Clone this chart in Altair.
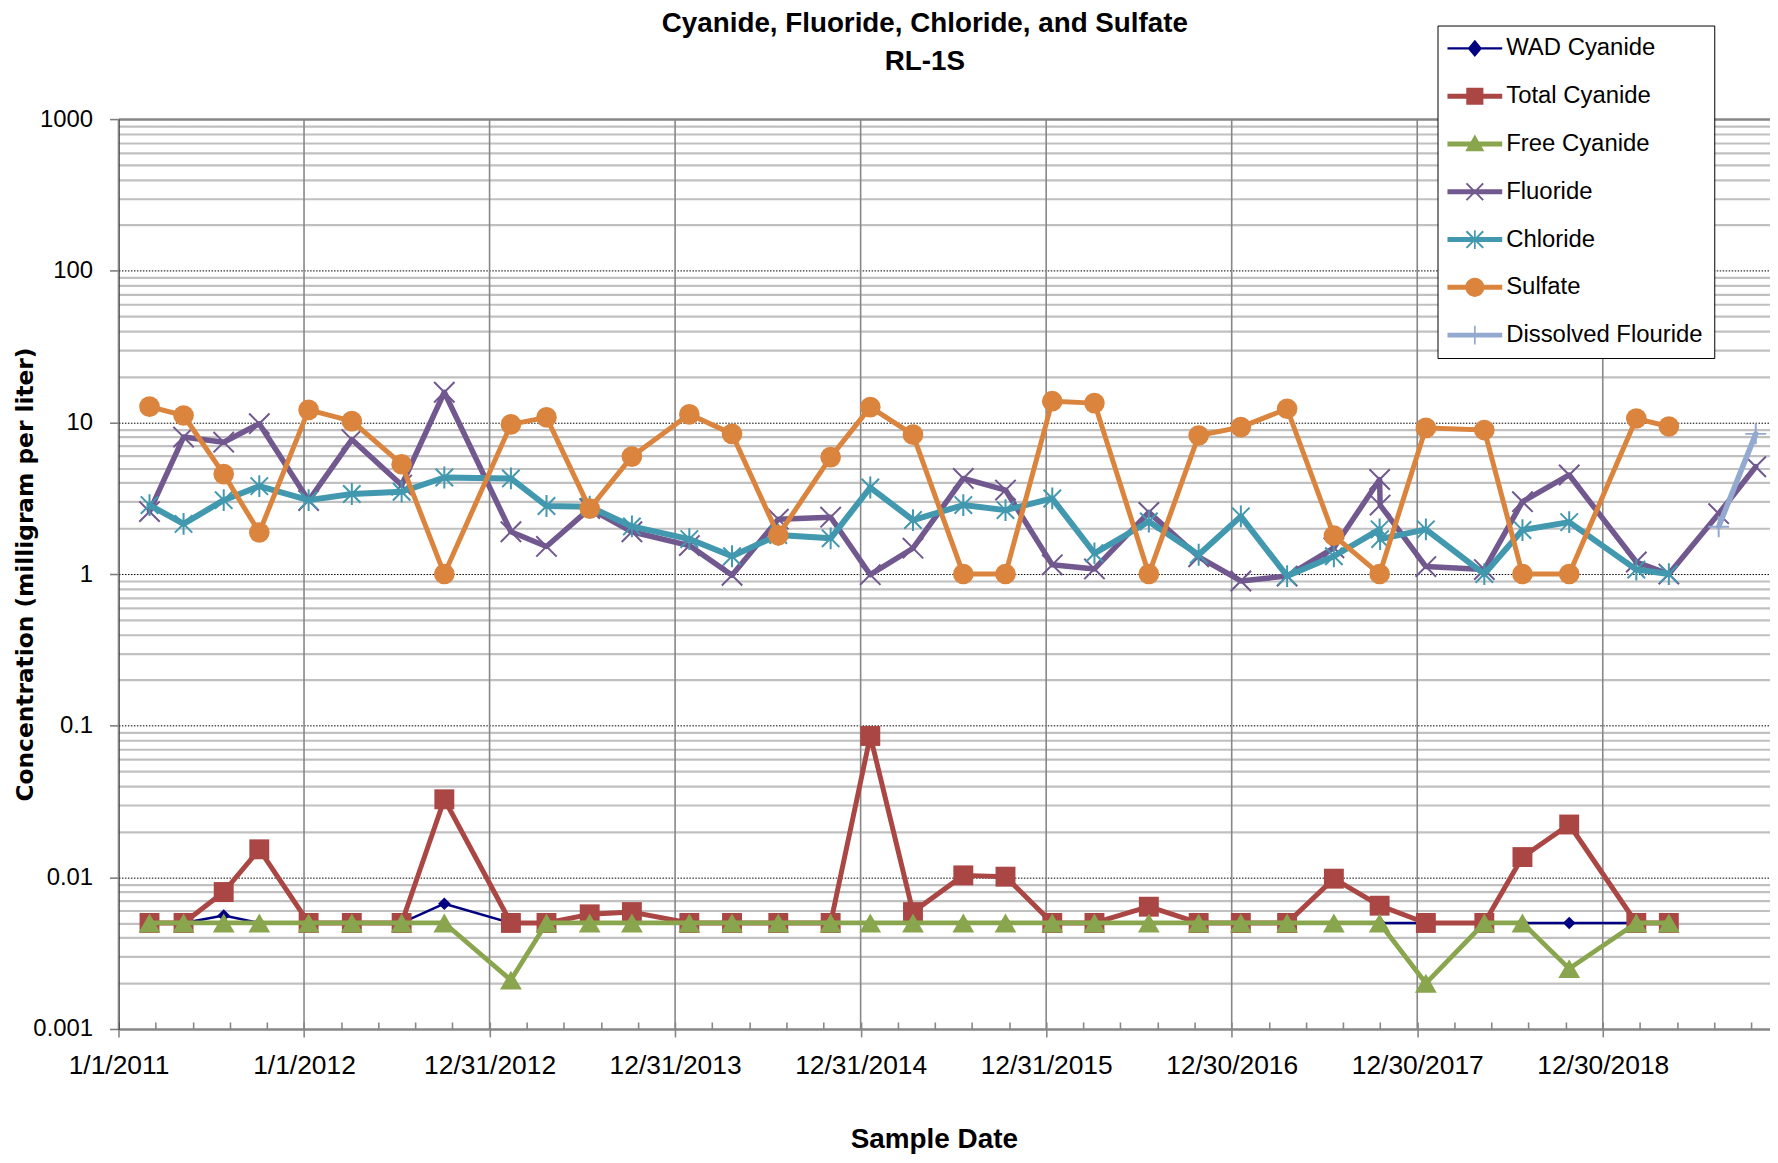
import altair as alt
import pandas as pd

# ---------------- data ----------------
sample_dates = [
    "2011-03-03", "2011-05-09", "2011-07-27", "2011-10-05", "2012-01-10", "2012-04-04",
    "2012-07-11", "2012-10-03", "2013-02-11", "2013-04-22", "2013-07-16", "2013-10-07",
    "2014-01-28", "2014-04-22", "2014-07-22", "2014-11-02", "2015-01-19", "2015-04-13",
    "2015-07-21", "2015-10-12", "2016-01-12", "2016-04-04", "2016-07-20", "2016-10-26",
    "2017-01-17", "2017-04-18", "2017-07-19", "2017-10-17", "2018-01-16", "2018-05-11",
    "2018-07-25", "2018-10-25", "2019-03-06", "2019-05-09",
]

wad_cyanide = [
    0.005, 0.005, 0.0056, 0.005, 0.005, 0.005, 0.005, 0.0067, 0.005, 0.005,
    0.005, 0.005, 0.005, 0.005, 0.005, 0.005, 0.005, 0.005, 0.005, 0.005,
    0.005, 0.005, 0.005, 0.005, 0.005, 0.005, 0.005, 0.005, 0.005, 0.005,
    0.005, 0.005, 0.005, 0.005,
]
total_cyanide = [
    0.005, 0.005, 0.008, 0.0153, 0.005, 0.005, 0.005, 0.0327, 0.005, 0.005,
    0.0057, 0.0059, 0.005, 0.005, 0.005, 0.005, 0.0855, 0.0059, 0.0103, 0.0101,
    0.005, 0.005, 0.0064, 0.005, 0.005, 0.005, 0.0098, 0.0065, 0.005, 0.005,
    0.0136, 0.0223, 0.005, 0.005,
]
free_cyanide = [
    0.005, 0.005, 0.005, 0.005, 0.005, 0.005, 0.005, 0.005, 0.0021, 0.005,
    0.005, 0.005, 0.005, 0.005, 0.005, 0.005, 0.005, 0.005, 0.005, 0.005,
    0.005, 0.005, 0.005, 0.005, 0.005, 0.005, 0.005, 0.005, 0.002, 0.005,
    0.005, 0.0025, 0.005, 0.005,
]
sulfate = [
    12.7, 11.1, 4.56, 1.88, 12.1, 10.2, 5.3, 1.0, 9.7, 10.8,
    2.7, 5.95, 11.3, 8.4, 1.8, 5.9, 12.6, 8.3, 1.0, 1.0,
    13.8, 13.4, 1.0, 8.2, 9.3, 12.3, 1.79, 1.0, 9.2, 8.9,
    1.0, 1.0, 10.6, 9.4,
]

fluoride_dates = sample_dates[:28] + ["2017-10-18"] + sample_dates[28:] + ["2019-08-15", "2019-10-27"]
fluoride = [
    2.58, 8.0, 7.4, 9.8, 3.05, 7.7, 3.86, 15.8, 1.9, 1.52,
    2.7, 1.9, 1.54, 0.98, 2.3, 2.37, 0.99, 1.48, 4.27, 3.58,
    1.15, 1.08, 2.55, 1.3, 0.90, 0.97, 1.49, 4.2,
    2.85,
    1.12, 1.07, 3.0, 4.5, 1.2, 1.0,
    2.5, 5.1,
]

chloride_dates = sample_dates[:28] + ["2017-10-18"] + sample_dates[28:]
chloride = [
    2.85, 2.14, 3.07, 3.8, 3.07, 3.37, 3.49, 4.33, 4.27, 2.81,
    2.78, 2.06, 1.7, 1.31, 1.81, 1.72, 3.72, 2.27, 2.85, 2.64,
    3.15, 1.37, 2.22, 1.34, 2.4, 0.97, 1.31, 1.97,
    1.70,
    1.97, 1.0, 1.95, 2.2, 1.07, 1.0,
]

dissolved_fluoride_dates = ["2019-08-15", "2019-10-27"]
dissolved_fluoride = [2.05, 8.4]

series_names = ["WAD Cyanide", "Total Cyanide", "Free Cyanide", "Fluoride",
                "Chloride", "Sulfate", "Dissolved Flouride"]

x_tick_dates = ["2011-01-01", "2012-01-01", "2012-12-31", "2013-12-31", "2014-12-31",
                "2015-12-31", "2016-12-30", "2017-12-30", "2018-12-30"]
x_domain = ["2011-01-01", "2019-11-24"]
y_tick_values = [0.001, 0.01, 0.1, 1, 10, 100, 1000]

# ---------------- styles ----------------
FONT = "Liberation Sans"
series_colors = ["#000080", "#AA4643", "#89A54E", "#71588F", "#4198AF", "#DB843D", "#93A9CF"]
line_widths = [2.5, 5.0, 4.8, 5.5, 6.0, 5.0, 5.5]
X_PATH = "M-1,-1L1,1M-1,1L1,-1"
STAR_PATH = "M-0.8,-0.8L0.8,0.8M-0.8,0.8L0.8,-0.8M0,-1L0,1"
PLUS_PATH = "M-1,0L1,0M0,-1L0,1"
marker_shapes = ["diamond", "square", "triangle-up", X_PATH, STAR_PATH, "circle", PLUS_PATH]
marker_sizes = [160, 400, 480, 420, 480, 430, 440]
marker_filled = [True, True, True, False, False, True, False]

# legend symbols: line segment + marker, drawn in px around the symbol centre
U = 12.0      # px per path unit for symbolSize 576
MX = 14.5     # marker centre relative to symbol centre (px)


def poly(points, dx=0.0):
    return "M" + "L".join(f"{(x + dx) / U:.4f},{y / U:.4f}" for x, y in points) + "Z"


def circ(r, dx):
    a, b, rr = (dx - r) / U, (dx + r) / U, r / U
    return f"M{a:.4f},0A{rr:.4f},{rr:.4f} 0 1,1 {b:.4f},0A{rr:.4f},{rr:.4f} 0 1,1 {a:.4f},0Z"


BAR_THIN = poly([(-13, -1.2), (42, -1.2), (42, 1.2), (-13, 1.2)])
BAR = poly([(-13, -2.5), (42, -2.5), (42, 2.5), (-13, 2.5)])
L_DIAMOND = poly([(0, -8.6), (7.2, 0), (0, 8.6), (-7.2, 0)], MX)
L_SQUARE = poly([(-8.6, -8.6), (8.6, -8.6), (8.6, 8.6), (-8.6, 8.6)], MX)
L_TRI = poly([(0, -9.6), (9.6, 7.4), (-9.6, 7.4)], MX)
L_X = (poly([(-7.7, -9.1), (9.1, 7.7), (7.7, 9.1), (-9.1, -7.7)], MX) + " "
       + poly([(7.7, -9.1), (9.1, -7.7), (-7.7, 9.1), (-9.1, 7.7)], MX))
L_V = poly([(-0.85, -9.4), (0.85, -9.4), (0.85, 9.4), (-0.85, 9.4)], MX)
L_H = poly([(-9, -0.85), (9, -0.85), (9, 0.85), (-9, 0.85)], MX)
L_CIRCLE = circ(9.6, MX)
legend_paths = [
    BAR_THIN + " " + L_DIAMOND,
    BAR + " " + L_SQUARE,
    BAR + " " + L_TRI,
    BAR + " " + L_X,
    BAR + " " + L_X + " " + L_V,
    BAR + " " + L_CIRCLE,
    BAR + " " + L_V + " " + L_H,
]


def utc_dt(s):
    y, m, d = (int(p) for p in s.split("-"))
    return alt.DateTime(year=y, month=m, date=d, utc=True)


x_scale = alt.Scale(type="utc", domain=[utc_dt(d) for d in x_domain], nice=False)
y_scale = alt.Scale(type="log", domain=[0.001, 1000], nice=False)

minor_y = [k * d for d in [0.001, 0.01, 0.1, 1, 10, 100] for k in range(2, 10)]
minor_x = [utc_dt(t.strftime("%Y-%m-%d"))
           for t in pd.date_range(x_domain[0], x_domain[1], freq="73D")]

x_major_axis = alt.Axis(
    orient="bottom", values=[utc_dt(d) for d in x_tick_dates],
    labelExpr="utcFormat(datum.value, '%-m/%-d/%Y')",
    labelFont=FONT, labelFontSize=26.5, labelColor="#000000", labelBaseline="alphabetic",
    labelPadding=37, labelFlush=False, labelOverlap=False, labelBound=False,
    grid=False, ticks=True, tickSize=8, tickColor="#878787", tickWidth=1.6,
    domain=True, domainColor="#878787", domainWidth=2.5,
    title="Sample Date", titleFont=FONT, titleFontSize=28, titleFontWeight="bold",
    titleColor="#000000", titleX=819, titleY=119, titleBaseline="alphabetic",
)
x_minor_axis = alt.Axis(
    orient="bottom", values=minor_x, grid=False, labels=False, domain=False,
    ticks=True, tickSize=7, tickColor="#878787", tickWidth=1.6, offset=-7, title=None,
)
x_top_axis = alt.Axis(
    orient="top", grid=False, labels=False, ticks=False, domain=True,
    domainColor="#878787", domainWidth=2.5, title=None,
)
y_major_axis = alt.Axis(
    orient="left", values=y_tick_values, labelExpr="format(datum.value, '~g')",
    labelFont=FONT, labelFontSize=24, labelColor="#000000", labelPadding=17,
    labelBaseline="middle",
    ticks=True, tickSize=9, tickColor="#7F7F7F", tickWidth=1.6,
    grid=True, gridColor="#000000", gridDash=[1.5, 1.5], gridWidth=1,
    domain=True, domainColor="#000000", domainWidth=1.3,
    title="Concentration (milligram per liter)", titleFont="DejaVu Sans",
    titleFontSize=23.4, titleFontWeight="bold", titleColor="#000000",
    titleX=-93, titleY=457, titleBaseline="middle",
)
y_minor_axis = alt.Axis(
    orient="left", values=minor_y, grid=True, gridColor="#C0C0C0", gridWidth=2.2,
    labels=False, ticks=False, domain=False, title=None,
)

layers = []

# vertical major gridlines
grid_df = pd.DataFrame({"date": x_tick_dates})
layers.append(
    alt.Chart(grid_df).mark_rule(color="#878787", strokeWidth=1.6).encode(
        x=alt.X("date:T", scale=x_scale, axis=x_minor_axis),
        y=alt.value(0), y2=alt.value(914),
    )
)

series_data = [
    (sample_dates, wad_cyanide),
    (sample_dates, total_cyanide),
    (sample_dates, free_cyanide),
    (fluoride_dates, fluoride),
    (chloride_dates, chloride),
    (sample_dates, sulfate),
    (dissolved_fluoride_dates, dissolved_fluoride),
]

for i, (dates, vals) in enumerate(series_data):
    df = pd.DataFrame({"date": dates, "value": vals, "series": series_names[i]})
    base = alt.Chart(df)
    if i == 0:
        lx, ly = alt.X("date:T", scale=x_scale, axis=x_major_axis), alt.Y("value:Q", scale=y_scale, axis=y_minor_axis)
        px, py = alt.X("date:T", scale=x_scale, axis=x_top_axis), alt.Y("value:Q", scale=y_scale, axis=y_major_axis)
    else:
        lx, ly = alt.X("date:T", scale=x_scale, axis=None), alt.Y("value:Q", scale=y_scale, axis=None)
        px, py = lx, ly
    line = base.mark_line(
        color=series_colors[i], strokeWidth=line_widths[i],
        strokeJoin="round", strokeCap="round", opacity=1,
    ).encode(x=lx, y=ly)
    pts = base.mark_point(
        shape=marker_shapes[i], size=marker_sizes[i], filled=marker_filled[i],
        color=series_colors[i], opacity=1, strokeWidth=2,
    ).encode(x=px, y=py)
    layers.extend([line, pts])

# legend (symbols = line segment + marker)
legend_cfg = alt.Legend(
    orient="none", legendX=1325, legendY=-94, title=None, direction="vertical",
    labelFont=FONT, labelFontSize=24, labelColor="#000000", labelLimit=400,
    labelOffset=34, symbolSize=576, symbolStrokeWidth=0, symbolOpacity=1,
    rowPadding=24, padding=11, strokeColor="#000000", fillColor="#FFFFFF",
)
legend_df = pd.DataFrame({"series": series_names})
layers.append(
    alt.Chart(legend_df).transform_filter("false").mark_point(filled=True, opacity=1).encode(
        color=alt.Color("series:N", scale=alt.Scale(domain=series_names, range=series_colors), legend=legend_cfg),
        shape=alt.Shape("series:N", scale=alt.Scale(domain=series_names, range=legend_paths), legend=legend_cfg),
    )
)

chart = (
    alt.layer(*layers)
    .resolve_axis(x="independent", y="independent")
    .properties(
        width=1659, height=914,
        autosize=alt.AutoSizeParams(type="none"),
        padding={"left": 111, "top": 109, "right": 0, "bottom": 124},
        title=alt.TitleParams(
            text=["Cyanide, Fluoride, Chloride, and Sulfate", "RL-1S"],
            font=FONT, fontSize=27.9, fontWeight="bold", color="#000000",
            lineHeight=38, anchor="middle", frame="group", dx=-19.5, offset=0,
            baseline="alphabetic", dy=73,
        ),
    )
    .configure_view(stroke=None)
)

chart.save("out.html", embed_options={"renderer": "svg", "actions": False})
